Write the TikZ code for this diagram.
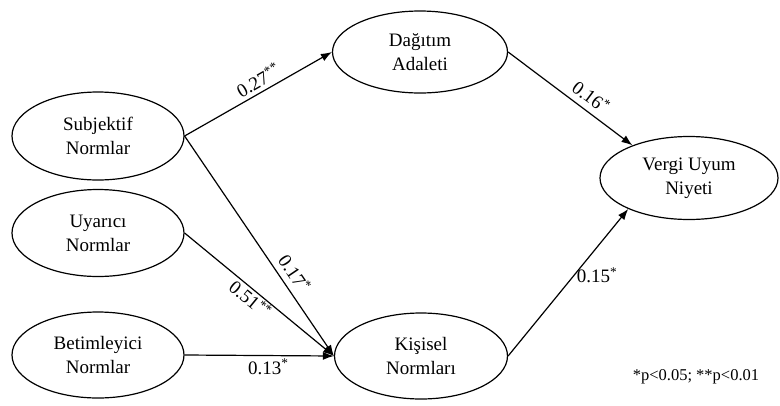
\documentclass[tikz,border=0pt]{standalone}
\usepackage{fontspec}
\setmainfont{Liberation Serif}
\usepackage{tikz}
\usetikzlibrary{shapes.geometric}
\usetikzlibrary{arrows.meta}
\tikzset{construct/.style={draw,ellipse,line width=1.2pt,inner sep=0pt,
   align=center,font=\fontsize{19}{24}\selectfont},
 path/.style={line width=1.2pt,-{Latex[length=11pt,width=8pt]}},
 coef/.style={font=\fontsize{19}{22}\selectfont,inner sep=2pt},
 }

\begin{document}
\begin{tikzpicture}[x=1pt,y=-1pt]
        \useasboundingbox (0,0) rectangle (780,405);
        \node[construct,minimum width=172pt,minimum height=88pt] (subj) at (98,136) {Subjektif\\Normlar};
        \node[construct,minimum width=172pt,minimum height=87pt] (uyar) at (98,233) {Uyarıcı\\Normlar};
        \node[construct,minimum width=172pt,minimum height=86pt] (betim) at (98,355) {Betimleyici\\Normlar};
        \node[construct,minimum width=175pt,minimum height=82pt] (dag) at (420,52) {Dağıtım\\Adaleti};
        \node[construct,minimum width=173pt,minimum height=86pt] (kis) at (421,356) {Kişisel\\Normları};
        \node[construct,minimum width=178pt,minimum height=83pt] (vergi) at (689,178) {Vergi Uyum\\Niyeti};
        \draw[path] (subj.east) -- node[coef,sloped,above,pos=.54,inner sep=4pt] {0.27\textsuperscript{**}} (dag.west);
        \draw[path] (dag.east) -- node[coef,sloped,above,pos=.6,inner sep=6pt] {0.16\textsuperscript{*}} (vergi.150);
        \draw[path] (subj.east) -- node[coef,sloped,above,pos=.66,inner sep=6pt] {0.17\textsuperscript{*}} (kis.west);
        \draw[path] (uyar.east) -- node[coef,sloped,below,pos=.48,inner sep=1pt] {0.51\textsuperscript{**}} (kis.west);
        \draw[path] (betim.east) -- node[coef,below,pos=.56,inner sep=3pt] {0.13\textsuperscript{*}} (kis.west);
        \draw[path] (kis.east) -- node[coef,right,pos=.55,inner sep=2pt] {0.15\textsuperscript{*}} (vergi.207);
        \node[font=\fontsize{16.5}{18}\selectfont] (note) at (696,377) {*p<0.05; **p<0.01};
    \end{tikzpicture}
\end{document}
